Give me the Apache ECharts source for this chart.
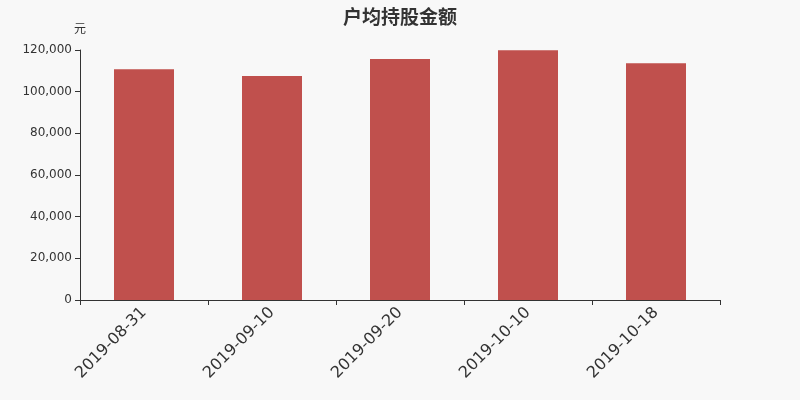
<!DOCTYPE html>
<html>
<head>
<meta charset="utf-8">
<script src="https://cdn.jsdelivr.net/npm/echarts@6/dist/echarts.min.js"></script>
<style>
html,body{margin:0;padding:0;background:#f8f8f8;}
#chartsDiv{width:800px;height:400px;}
</style>
</head>
<body>
<div id="chartsDiv"></div>
<script>
var categories = ['2019-08-31', '2019-09-10', '2019-09-20', '2019-10-10', '2019-10-18'];
var values = [110800, 107500, 115700, 119900, 113700];
var yTicks = [0, 20000, 40000, 60000, 80000, 100000, 120000];

var chart = echarts.init(document.getElementById('chartsDiv'));
var opt = {
	backgroundColor: '#f8f8f8',
	title: {
		text: '户均持股金额',
		left: 'center',
		top: 2,
		textStyle: {fontSize: 19, fontWeight: 'bold', color: '#333', fontFamily: 'Noto Sans CJK SC'}
	},
	grid: {left: 80, right: 80, top: 50, bottom: 100},
	xAxis: {
		type: 'category',
		data: categories,
		boundaryGap: true,
		axisLine: {lineStyle: {color: '#333'}},
		axisTick: {show: true, length: 5, lineStyle: {color: '#333'}},
		axisLabel: {rotate: 45, fontSize: 16, color: '#333', margin: 10, fontFamily: 'DejaVu Sans'}
	},
	yAxis: {
		type: 'value',
		name: '元',
		nameGap: 16,
		nameTextStyle: {color: '#333', fontSize: 12, align: 'center', fontFamily: 'Noto Sans CJK SC'},
		min: yTicks[0],
		max: yTicks[yTicks.length - 1],
		interval: 20000,
		splitLine: {show: false},
		axisLine: {show: true, lineStyle: {color: '#333'}},
		axisTick: {show: true, length: 5, lineStyle: {color: '#333'}},
		axisLabel: {
			color: '#333', fontSize: 12, fontFamily: 'DejaVu Sans',
			formatter: function(v){ return v.toLocaleString('en-US'); }
		}
	},
	series: [{
		type: 'bar',
		data: values,
		barWidth: 60,
		itemStyle: {color: '#c0504d'}
	}]
};
chart.setOption(opt);
</script>
</body>
</html>
